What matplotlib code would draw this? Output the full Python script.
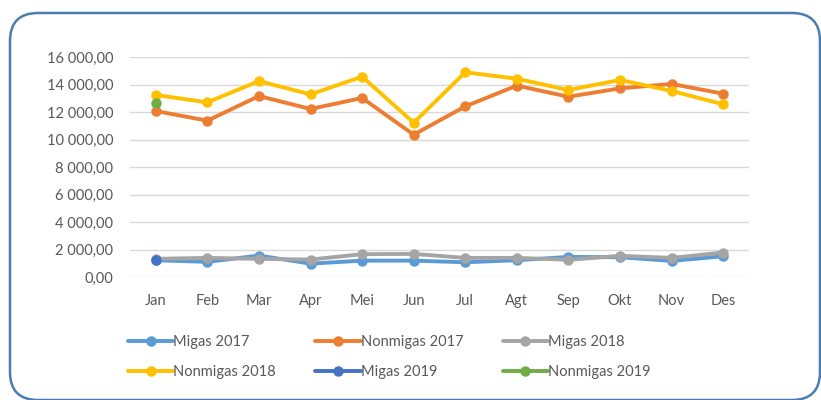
import matplotlib
matplotlib.use("Agg")
import matplotlib.pyplot as plt
from matplotlib.patches import FancyBboxPatch
from matplotlib.transforms import IdentityTransform
from matplotlib.ticker import FuncFormatter, MultipleLocator

plt.rcParams['font.family'] = ['Lato', 'DejaVu Sans']

months = ["Jan", "Feb", "Mar", "Apr", "Mei", "Jun", "Jul", "Agt", "Sep", "Okt", "Nov", "Des"]
migas_2017 = [1220, 1100, 1560, 970, 1190, 1190, 1070, 1220, 1460, 1440, 1170, 1510]
nonmigas_2017 = [12070, 11370, 13160, 12220, 13020, 10350, 12410, 13920, 13110, 13720, 14040, 13330]
migas_2018 = [1320, 1390, 1320, 1270, 1660, 1680, 1390, 1390, 1250, 1540, 1390, 1780]
nonmigas_2018 = [13240, 12700, 14250, 13280, 14570, 11220, 14890, 14420, 13600, 14330, 13530, 12560]
migas_2019 = [1220]
nonmigas_2019 = [12630]

series = [
    ("Migas 2017", migas_2017, "#5B9BD5"),
    ("Nonmigas 2017", nonmigas_2017, "#ED7D31"),
    ("Migas 2018", migas_2018, "#A5A5A5"),
    ("Nonmigas 2018", nonmigas_2018, "#FFC000"),
    ("Migas 2019", migas_2019, "#4472C4"),
    ("Nonmigas 2019", nonmigas_2019, "#70AD47"),
]

fig = plt.figure(figsize=(8.21, 4.0), dpi=100)
fig.patch.set_facecolor("white")

# rounded border (pixel coordinates, origin bottom-left)
box = FancyBboxPatch((10, 0), 810, 387,
                     boxstyle="round,pad=0,rounding_size=28",
                     transform=IdentityTransform(), facecolor="none",
                     edgecolor="#4A7EB3", linewidth=1.8, zorder=-1)
fig.patches.append(box)

ax = fig.add_axes([130 / 821, 1 - 277 / 400, 619 / 821, 220 / 400])
ax.set_facecolor("none")
x = list(range(len(months)))
handles = []
for name, vals, col in series:
    h, = ax.plot(x[:len(vals)], vals, color=col, lw=2.8, marker="o", ms=6.5,
                 label=name, solid_capstyle="round", zorder=3)
    handles.append(h)

ax.set_xlim(-0.5, 11.5)
ax.set_ylim(0, 16000)
ax.yaxis.set_major_locator(MultipleLocator(2000))
ax.yaxis.set_major_formatter(FuncFormatter(
    lambda v, p: "{:,.2f}".format(v).replace(",", " ").replace(".", ",")))
ax.set_xticks(x)
ax.set_xticklabels(months)
ax.grid(axis="y", color="#D9D9D9", lw=1)
ax.set_axisbelow(True)
for s in ax.spines.values():
    s.set_visible(False)
ax.tick_params(length=0, labelsize=10.5, labelcolor="#595959")
ax.tick_params(axis="y", pad=12)
ax.tick_params(axis="x", pad=12)

order = [0, 3, 1, 4, 2, 5]
leg = fig.legend([handles[i] for i in order], [series[i][0] for i in order],
                 ncol=3, loc="center left", bbox_to_anchor=(115 / 821, 1 - 357 / 400),
                 frameon=False, fontsize=10.5, handlelength=3.1, handletextpad=0.0,
                 columnspacing=2.7, labelspacing=1.05)
for t in leg.get_texts():
    t.set_color("#595959")

fig.savefig("out.png", dpi=100)
